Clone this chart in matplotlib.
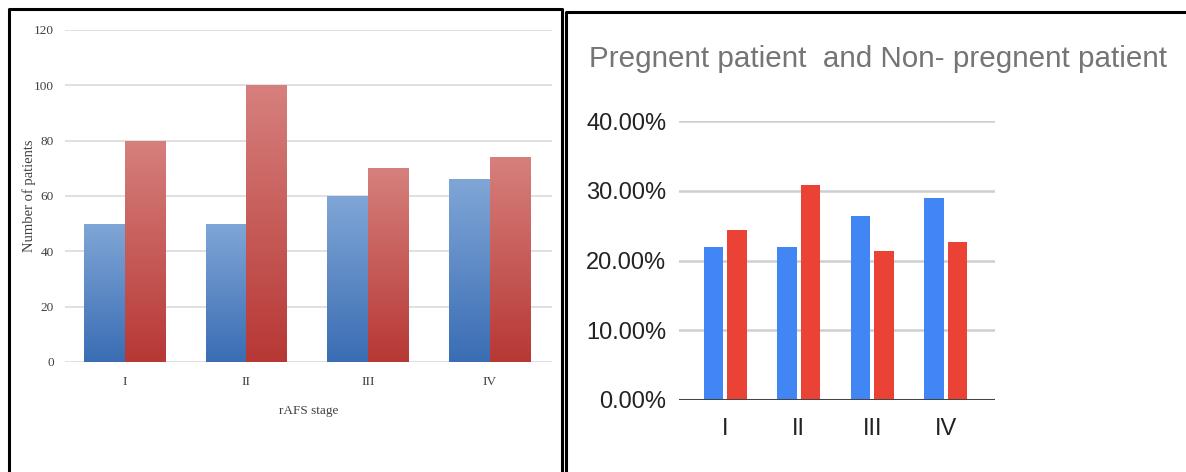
import numpy as np
import matplotlib
matplotlib.use("Agg")
import matplotlib.pyplot as plt
from matplotlib.colors import LinearSegmentedColormap
from matplotlib.lines import Line2D

# left chart: rAFS stage counts
stages = ["I", "II", "III", "IV"]
left_blue = [50, 50, 60, 66]
left_red = [80, 100, 70, 74]
left_yticks = [0, 20, 40, 60, 80, 100, 120]

# right chart: pregnant vs non-pregnant share
right_blue = [22.0, 22.0, 26.4, 29.0]
right_red = [24.4, 30.8, 21.3, 22.7]
right_yticks = [0, 10, 20, 30, 40]
right_title = "Pregnent patient  and Non- pregnent patient"

W, H = 1186, 472
fig = plt.figure(figsize=(W / 100, H / 100), dpi=100)


def px_axes(x0, y_top, x1, y_bot):
    return fig.add_axes([x0 / W, 1 - y_bot / H, (x1 - x0) / W, (y_bot - y_top) / H])


def gradient_fill(ax, bars, top, bottom):
    cmap = LinearSegmentedColormap.from_list("g", [bottom, top])
    grad = np.linspace(0, 1, 256).reshape(-1, 1)
    for b in bars:
        x0, y0, w, h = b.get_x(), b.get_y(), b.get_width(), b.get_height()
        im = ax.imshow(grad, extent=[x0, x0 + w, y0, y0 + h], origin="lower",
                       cmap=cmap, aspect="auto", zorder=2, interpolation="bilinear")
        im.set_clip_path(b)
        b.set_facecolor("none")


# ---- left panel ----
ax1 = px_axes(65, 30, 552, 362)
x = np.arange(len(stages))
bw = 0.335
b1 = ax1.bar(x - bw / 2, left_blue, bw, color="#5a86c4", linewidth=0, zorder=2)
b2 = ax1.bar(x + bw / 2, left_red, bw, color="#c4504d", linewidth=0, zorder=2)
gradient_fill(ax1, b1, "#80a6d6", "#3a6db4")
gradient_fill(ax1, b2, "#d6807d", "#b73835")
ax1.set_xlim(-0.49, 3.51)
ax1.set_ylim(0, 120)
ax1.set_yticks(left_yticks)
ax1.set_xticks(x)
ax1.set_xticklabels(stages)
for s in ax1.spines.values():
    s.set_visible(False)
ax1.grid(axis="y", color="#dadada", linewidth=1.2, zorder=0)
ax1.set_axisbelow(True)
ax1.tick_params(length=0, labelsize=9.5, colors="#404040")
ax1.tick_params(axis="y", pad=8)
ax1.tick_params(axis="x", pad=10)
for t in ax1.get_xticklabels() + ax1.get_yticklabels():
    t.set_family("Liberation Serif")
ax1.set_xlabel("rAFS stage", family="Liberation Serif", fontsize=9.5, color="#404040", labelpad=12)
ax1.set_ylabel("Number of patients", family="Liberation Serif", fontsize=10.5, color="#404040")
ax1.yaxis.set_label_coords(-(65 - 36) / 487, (362 - 196) / 332)

# ---- right panel ----
ax2 = px_axes(679, 121, 995, 400)
bw2 = 0.265
ax2.bar(x - 0.16, right_blue, bw2, color="#4285f4", linewidth=0, zorder=2)
ax2.bar(x + 0.16, right_red, bw2, color="#ea4335", linewidth=0, zorder=2)
ax2.set_xlim(-0.63, 3.67)
ax2.set_ylim(0, 40)
ax2.set_yticks(right_yticks)
ax2.set_yticklabels([f"{v:.2f}%" for v in right_yticks])
ax2.set_xticks(x)
ax2.set_xticklabels(stages)
for s in ax2.spines.values():
    s.set_visible(False)
ax2.grid(axis="y", color="#cfcfcf", linewidth=1.8, zorder=0)
ax2.set_axisbelow(True)
ax2.axhline(0, color="#444444", linewidth=2.2, zorder=3)
ax2.tick_params(length=0, labelsize=17, colors="#222222")
ax2.tick_params(axis="y", pad=9)
ax2.tick_params(axis="x", pad=13)
for t in ax2.get_xticklabels() + ax2.get_yticklabels():
    t.set_family("Liberation Sans")
fig.text(589 / W, 1 - 67 / H, right_title, family="Liberation Sans", fontsize=21.3,
         color="#757575", va="baseline", ha="left")

# panel borders
def fig_line(xs, ys, lw=2.2):
    fig.add_artist(Line2D([v / W for v in xs], [1 - v / H for v in ys],
                          color="black", linewidth=lw, solid_capstyle="projecting"))

fig_line([9, 9, 562, 562], [H + 5, 9, 9, H + 5])
fig_line([566, 566, W + 5], [H + 5, 12, 12])

fig.savefig("out.png", dpi=100)
